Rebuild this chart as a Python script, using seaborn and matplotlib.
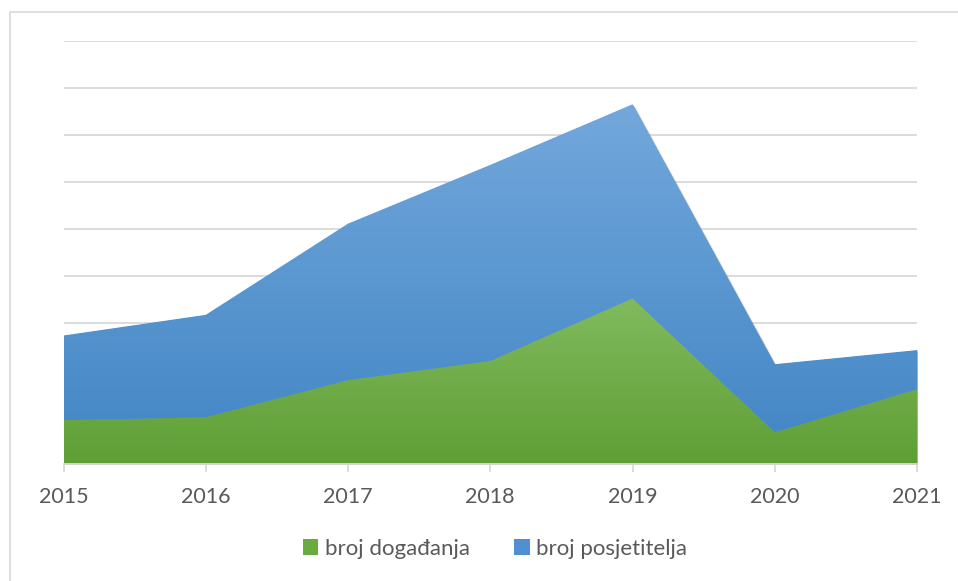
import numpy as np
import matplotlib
matplotlib.use("Agg")
import matplotlib.pyplot as plt
import matplotlib.patheffects as pe
from matplotlib.patches import Patch, Rectangle
from matplotlib.colors import LinearSegmentedColormap
import seaborn as sns

years = [2015, 2016, 2017, 2018, 2019, 2020, 2021]
events = [0.94, 1.00, 1.79, 2.20, 3.53, 0.68, 1.60]       # broj događanja
visitors = [1.80, 2.18, 3.33, 4.17, 4.13, 1.45, 0.83]     # broj posjetitelja
labels = ["broj događanja", "broj posjetitelja"]

sns.set_theme(style="white")
plt.rcParams["font.family"] = ["Lato", "DejaVu Sans"]

fig = plt.figure(figsize=(9.58, 5.81), dpi=100)
ax = fig.add_axes([63.5 / 958, (581 - 464.3) / 581, (917 - 63.5) / 958, (464.3 - 41.3) / 581])

x = np.array(years, dtype=float)
g = np.array(events)
tot = g + np.array(visitors)

# frame around chart area
fig.patches.append(Rectangle((10 / 958, -0.1), 1.2, (581 - 12) / 581 + 0.1,
                             transform=fig.transFigure, fill=False,
                             edgecolor="#d9d9d9", linewidth=1.2, zorder=0))

ax.set_xlim(2015, 2021)
ax.set_ylim(0, 9)
ax.set_yticks(np.arange(1, 10))
ax.yaxis.grid(True, color="#d9d9d9", linewidth=1.3)
ax.xaxis.grid(False)
ax.set_axisbelow(True)
ax.tick_params(axis="y", left=False, labelleft=False)

# soft shadow for the stacked silhouette
for off, a in [(3.0, 0.08), (2.0, 0.12), (1.0, 0.15)]:
    sh = ax.fill_between(x, 0, tot, color="#606060", alpha=a, linewidth=0, zorder=1)
    sh.set_transform(ax.transData + matplotlib.transforms.ScaledTranslation(off / 100, -off / 100, fig.dpi_scale_trans))

polys = ax.stackplot(x, g, visitors, colors=["#70ad47", "#5b9bd5"], linewidth=0, zorder=2)

def gradient(poly, top, c_top, c_bot):
    cmap = LinearSegmentedColormap.from_list("g", [c_bot, c_top])
    img = ax.imshow(np.linspace(0, 1, 256).reshape(-1, 1), cmap=cmap, aspect="auto",
                    origin="lower", extent=[2015, 2021, 0, top], zorder=3,
                    interpolation="bilinear")
    img.set_clip_path(poly.get_paths()[0], ax.transData)

gradient(polys[0], g.max(), "#81bb5e", "#5f9e35")
gradient(polys[1], tot.max(), "#73a8dc", "#4185c4")
ax.set_xlim(2015, 2021)
ax.set_ylim(0, 9)

for s in ["top", "right", "left"]:
    ax.spines[s].set_visible(False)
ax.spines["bottom"].set_color("#d9d9d9")
ax.spines["bottom"].set_linewidth(1.3)
ax.spines["bottom"].set_zorder(5)
ax.set_xticks(years)
ax.set_xticklabels([str(y) for y in years])
ax.tick_params(axis="x", bottom=True, length=6, width=1.3, color="#d9d9d9",
               labelsize=15.5, labelcolor="#595959", pad=10)

handles = [Patch(facecolor="#6aab40", edgecolor="none"), Patch(facecolor="#4f90d0", edgecolor="none")]
fig.legend(handles, labels, loc="center", bbox_to_anchor=(495 / 958, 1 - 549 / 581),
           ncol=2, frameon=False, fontsize=16, labelcolor="#595959",
           handlelength=0.7, handleheight=0.7, handletextpad=0.3, columnspacing=2.0)

fig.savefig("out.png", dpi=100, facecolor="white")
